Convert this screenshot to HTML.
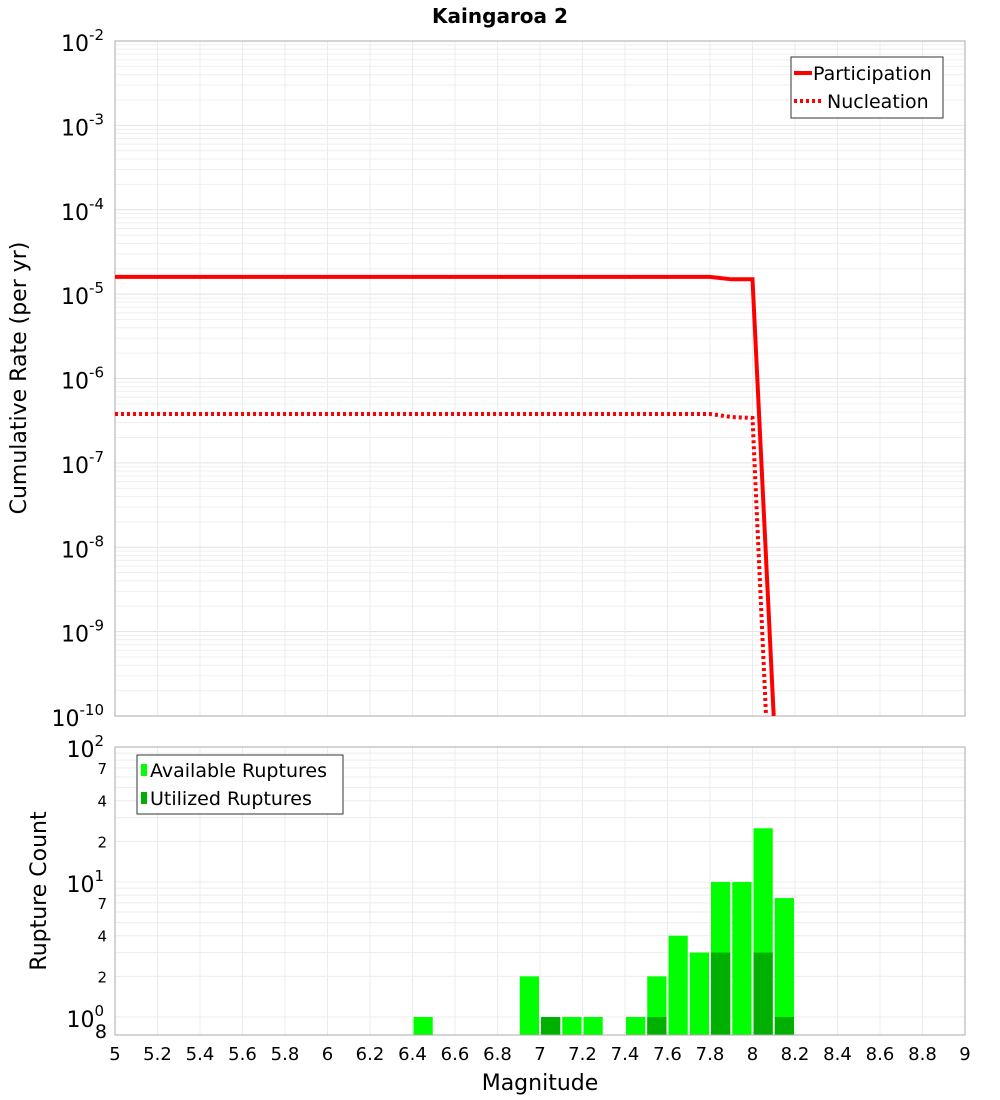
<!DOCTYPE html>
<html><head><meta charset="utf-8"><style>
body{margin:0;background:#fff;font-family:"DejaVu Sans","Liberation Sans",sans-serif}
svg{display:block}
</style></head><body>
<svg id="c" width="1000" height="1100" xmlns="http://www.w3.org/2000/svg" font-family="DejaVu Sans, Liberation Sans, sans-serif">
<text x="500" y="23" text-anchor="middle" font-size="20" font-weight="bold">Kaingaroa 2</text>
<g id="topPlot"></g>
<g id="botPlot"></g>
<text transform="translate(26,378) rotate(-90)" text-anchor="middle" font-size="22">Cumulative Rate (per yr)</text>
<text transform="translate(46,891) rotate(-90)" text-anchor="middle" font-size="22">Rupture Count</text>
<text x="540" y="1090" text-anchor="middle" font-size="22">Magnitude</text>
</svg>
<script>
const magPts=[5,5.5,6,6.5,7,7.5,7.8,7.9,8.0,8.1,8.2];
const participation=[1.6e-5,1.6e-5,1.6e-5,1.6e-5,1.6e-5,1.6e-5,1.6e-5,1.5e-5,1.5e-5,1e-10,1e-13];
const nucleation=[3.8e-7,3.8e-7,3.8e-7,3.8e-7,3.8e-7,3.8e-7,3.8e-7,3.5e-7,3.4e-7,1e-12,1e-14];
const binCenters=[6.45,6.95,7.05,7.15,7.25,7.45,7.55,7.65,7.75,7.85,7.95,8.05,8.15];
const available=[1,2,1,1,1,1,2,4,3,10,10,25,7.6];
const utilized=[0,0,1,0,0,0,1,0,0,3,0,3,1];
const xTicks=[5,5.2,5.4,5.6,5.8,6,6.2,6.4,6.6,6.8,7,7.2,7.4,7.6,7.8,8,8.2,8.4,8.6,8.8,9];

const NS='http://www.w3.org/2000/svg';
function mk(p,t,a){const e=document.createElementNS(NS,t);for(const k in a)e.setAttribute(k,a[k]);p.appendChild(e);return e;}
const L=115,R=965;
const X=m=>L+(m-5)/4*(R-L);
const T0=41,T1=716;
const Yt=v=>T0+(-2-Math.log10(v))/8*(T1-T0);
const B0=747,B1=1035,PD=135;
const Yb=v=>B0+(2-Math.log10(v))*PD;
const topG=document.getElementById('topPlot'),botG=document.getElementById('botPlot');
const cp=mk(topG,'clipPath',{id:'ct'});
mk(cp,'rect',{x:L,y:T0,width:R-L,height:T1-T0});
for(let e=-10;e<-2;e++)for(let k=1;k<10;k++){const y=Yt(k*Math.pow(10,e));
 const g=mk(topG,'line',{x1:L,x2:R,y1:y,y2:y,stroke:k==1?'#e2e2e2':'#efefef','stroke-width':1});
 
 }
xTicks.forEach(m=>{const g=mk(topG,'line',{x1:X(m),x2:X(m),y1:T0,y2:T1,stroke:'#ececec'});
 
 
 const g2=mk(botG,'line',{x1:X(m),x2:X(m),y1:B0,y2:B1,stroke:'#ececec'});
 
 });
const fr=mk(topG,'rect',{x:L,y:T0,width:R-L,height:T1-T0,fill:'none',stroke:'#aaa'});


for(let e=-10;e<=-2;e++){const y=Yt(Math.pow(10,e));
 const t=mk(topG,'text',{x:104,y:y+10,'text-anchor':'end','font-size':22});
 
 
 t.innerHTML='10<tspan dy="-11" font-size="15">'+e+'</tspan>';}
function line(xs,ys,dash,name){const d=xs.map((m,i)=>(i?'L':'M')+X(m).toFixed(1)+','+Yt(ys[i]).toFixed(1)).join('');
 const p=mk(topG,'path',{d:d,fill:'none',stroke:'#ff0000','stroke-width':4,'clip-path':'url(#ct)'});
 if(dash)p.setAttribute('stroke-dasharray','3,3');
 
 }
line(magPts,participation,false,'participation-line');
line(magPts,nucleation,true,'nucleation-line');
const lg=mk(topG,'g',{});


mk(lg,'rect',{x:791,y:57,width:152,height:61,fill:'#fff',stroke:'#333'});
mk(lg,'line',{x1:794,x2:812,y1:73,y2:73,stroke:'#f00','stroke-width':4});
mk(lg,'line',{x1:794,x2:822,y1:101,y2:101,stroke:'#f00','stroke-width':4,'stroke-dasharray':'3,3'});
const l1=mk(lg,'text',{x:813,y:80,'font-size':19});l1.textContent='Participation';


const l2=mk(lg,'text',{x:827,y:108,'font-size':19});l2.textContent='Nucleation';


[1,2,3,4,5,6,7,8,9,10,20,30,40,50,60,70,80,90].forEach(v=>{const y=Yb(v);if(y>B1)return;
 const g=mk(botG,'line',{x1:L,x2:R,y1:y,y2:y,stroke:'#ececec'});
 
 });
const bw=(R-L)/40;
binCenters.forEach((c,i)=>{const x=X(c)-bw/2+1;
 const b=mk(botG,'rect',{x:x,y:Yb(available[i]),width:bw-2,height:B1-Yb(available[i]),fill:'#00ff00'});
 
 
 if(utilized[i]>0){const u=mk(botG,'rect',{x:x,y:Yb(utilized[i]),width:bw-2,height:B1-Yb(utilized[i]),fill:'#00b000'});
 
 }});
const fr2=mk(botG,'rect',{x:L,y:B0,width:R-L,height:B1-B0,fill:'none',stroke:'#aaa'});


[[100,'10','2'],[10,'10','1'],[1,'10','0']].forEach(([v,b,s])=>{const t=mk(botG,'text',{x:104,y:Yb(v)+10,'text-anchor':'end','font-size':22});
 
 
 t.innerHTML=b+'<tspan dy="-11" font-size="15">'+s+'</tspan>';});
[70,40,20,7,4,2].forEach(v=>{const t=mk(botG,'text',{x:107,y:Yb(v)+6,'text-anchor':'end','font-size':15});
 
 
 t.textContent=String(v)[0];});
const t8=mk(botG,'text',{x:107,y:Yb(0.8)+8,'text-anchor':'end','font-size':19});t8.textContent='8';


xTicks.forEach(m=>{const t=mk(botG,'text',{x:X(m),y:1060,'text-anchor':'middle','font-size':18});
 
 
 t.textContent=String(m);});
const lg2=mk(botG,'g',{});


mk(lg2,'rect',{x:137,y:755,width:206,height:59,fill:'#fff',stroke:'#333'});
mk(lg2,'rect',{x:141,y:764,width:6,height:12,fill:'#00ff00'});
mk(lg2,'rect',{x:141,y:792,width:6,height:12,fill:'#00b000'});
const a1=mk(lg2,'text',{x:150,y:777,'font-size':19});a1.textContent='Available Ruptures';


const a2=mk(lg2,'text',{x:150,y:805,'font-size':19});a2.textContent='Utilized Ruptures';


</script>
</body></html>
